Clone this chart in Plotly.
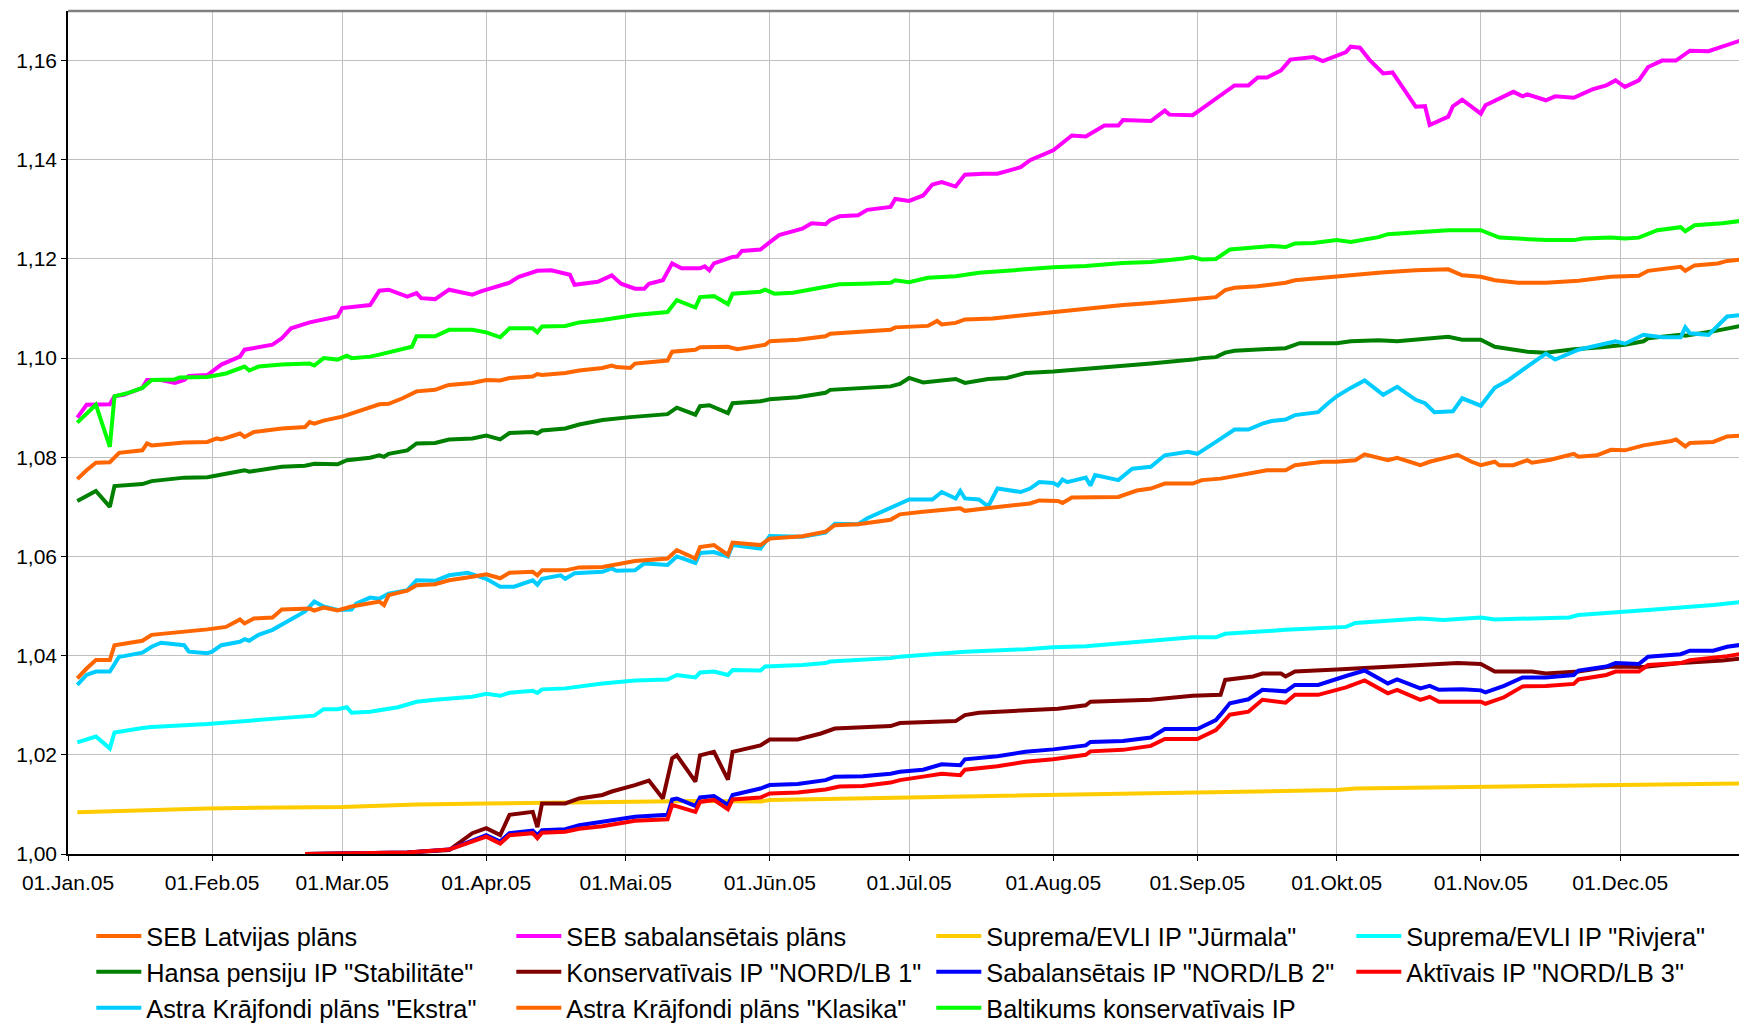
import pandas as pd
import plotly.graph_objects as go

YEAR = "2005-"

SEB_LATVIJAS_DATES = ["01-03", "01-05", "01-07", "01-10", "01-12", "01-17", "01-18", "01-19", "01-26", "01-31", "02-02", "02-03", "02-07", "02-08", "02-10", "02-16", "02-21", "02-22", "02-23", "02-25", "03-01", "03-02", "03-04", "03-07", "03-09", "03-11", "03-14", "03-17", "03-21", "03-23", "03-24", "03-29", "04-01", "04-04", "04-06", "04-11", "04-12", "04-13", "04-18", "04-21", "04-26", "04-28", "04-29", "05-02", "05-03", "05-10", "05-11", "05-16", "05-17", "05-23", "05-25", "05-31", "06-01", "06-07", "06-13", "06-14", "06-21", "06-27", "06-28", "07-05", "07-06", "07-07", "07-08", "07-11", "07-13", "07-19", "07-26", "08-01", "08-08", "08-16", "08-22", "08-31", "09-05", "09-07", "09-09", "09-14", "09-20", "09-22", "09-28", "10-04", "10-10", "10-13", "10-18", "10-25", "10-28", "11-01", "11-04", "11-09", "11-15", "11-22", "11-29", "12-05", "12-07", "12-14", "12-15", "12-17", "12-22", "12-24", "12-28"]
SEB_LATVIJAS_VALUES = [1.0756, 1.0774, 1.0789, 1.0790, 1.0809, 1.0814, 1.0828, 1.0824, 1.0830, 1.0831, 1.0838, 1.0836, 1.0848, 1.0841, 1.0851, 1.0858, 1.0861, 1.0871, 1.0868, 1.0874, 1.0882, 1.0885, 1.0892, 1.0900, 1.0907, 1.0908, 1.0919, 1.0933, 1.0936, 1.0943, 1.0946, 1.0950, 1.0956, 1.0955, 1.0960, 1.0963, 1.0968, 1.0966, 1.0970, 1.0975, 1.0980, 1.0985, 1.0982, 1.0980, 1.0989, 1.0995, 1.1013, 1.1017, 1.1022, 1.1023, 1.1018, 1.1027, 1.1034, 1.1037, 1.1044, 1.1049, 1.1054, 1.1057, 1.1062, 1.1065, 1.1070, 1.1075, 1.1068, 1.1071, 1.1078, 1.1080, 1.1087, 1.1093, 1.1099, 1.1107, 1.1111, 1.1120, 1.1123, 1.1137, 1.1142, 1.1145, 1.1152, 1.1157, 1.1162, 1.1169, 1.1172, 1.1174, 1.1177, 1.1179, 1.1167, 1.1164, 1.1157, 1.1152, 1.1152, 1.1156, 1.1164, 1.1166, 1.1176, 1.1184, 1.1176, 1.1187, 1.1191, 1.1196, 1.1200]

SEB_SABAL_DATES = ["01-03", "01-05", "01-10", "01-11", "01-13", "01-17", "01-18", "01-21", "01-24", "01-26", "01-27", "01-31", "02-03", "02-07", "02-08", "02-14", "02-16", "02-18", "02-22", "02-25", "02-28", "03-01", "03-07", "03-09", "03-11", "03-15", "03-17", "03-18", "03-21", "03-24", "03-29", "03-31", "04-04", "04-06", "04-08", "04-12", "04-15", "04-19", "04-20", "04-25", "04-28", "04-30", "05-03", "05-05", "05-06", "05-09", "05-11", "05-13", "05-17", "05-18", "05-19", "05-20", "05-24", "05-25", "05-26", "05-30", "06-03", "06-08", "06-10", "06-13", "06-14", "06-16", "06-20", "06-22", "06-27", "06-28", "07-01", "07-04", "07-06", "07-08", "07-11", "07-13", "07-17", "07-20", "07-25", "07-27", "08-01", "08-05", "08-08", "08-12", "08-15", "08-16", "08-22", "08-25", "08-26", "08-31", "09-02", "09-06", "09-08", "09-09", "09-12", "09-14", "09-16", "09-19", "09-21", "09-26", "09-28", "10-03", "10-04", "10-06", "10-08", "10-11", "10-13", "10-18", "10-20", "10-21", "10-25", "10-26", "10-28", "11-01", "11-02", "11-08", "11-10", "11-11", "11-15", "11-17", "11-21", "11-25", "11-28", "11-30", "12-02", "12-05", "12-07", "12-10", "12-13", "12-16", "12-20", "12-23", "12-28"]
SEB_SABAL_VALUES = [1.0880, 1.0906, 1.0907, 1.0923, 1.0926, 1.0940, 1.0956, 1.0956, 1.0950, 1.0956, 1.0964, 1.0966, 1.0987, 1.1003, 1.1017, 1.1027, 1.1040, 1.1060, 1.1072, 1.1077, 1.1084, 1.1101, 1.1107, 1.1136, 1.1138, 1.1124, 1.1131, 1.1121, 1.1119, 1.1138, 1.1128, 1.1135, 1.1145, 1.1152, 1.1164, 1.1176, 1.1177, 1.1168, 1.1148, 1.1154, 1.1167, 1.1150, 1.1140, 1.1140, 1.1150, 1.1157, 1.1191, 1.1181, 1.1181, 1.1185, 1.1177, 1.1191, 1.1204, 1.1205, 1.1216, 1.1219, 1.1248, 1.1261, 1.1272, 1.1270, 1.1278, 1.1286, 1.1288, 1.1299, 1.1305, 1.1321, 1.1317, 1.1328, 1.1350, 1.1355, 1.1346, 1.1370, 1.1372, 1.1372, 1.1385, 1.1399, 1.1419, 1.1449, 1.1447, 1.1469, 1.1469, 1.1480, 1.1478, 1.1499, 1.1491, 1.1490, 1.1503, 1.1530, 1.1544, 1.1550, 1.1550, 1.1566, 1.1566, 1.1580, 1.1602, 1.1607, 1.1599, 1.1617, 1.1628, 1.1626, 1.1602, 1.1574, 1.1576, 1.1507, 1.1508, 1.1470, 1.1487, 1.1508, 1.1521, 1.1493, 1.1510, 1.1537, 1.1528, 1.1532, 1.1520, 1.1528, 1.1525, 1.1542, 1.1550, 1.1560, 1.1547, 1.1560, 1.1587, 1.1600, 1.1600, 1.1620, 1.1619, 1.1629, 1.1644]

JURMALA_DATES = ["01-03", "01-17", "01-31", "03-01", "03-17", "04-01", "04-24", "05-16", "05-30", "06-01", "07-01", "08-01", "08-28", "09-15", "10-01", "10-05", "11-01", "12-01", "12-27", "12-28"]
JURMALA_VALUES = [1.0084, 1.0087, 1.0092, 1.0095, 1.0100, 1.0102, 1.0105, 1.0107, 1.0106, 1.0109, 1.0114, 1.0119, 1.0122, 1.0125, 1.0129, 1.0132, 1.0136, 1.0139, 1.0142, 1.0149]

RIVJERA_DATES = ["01-03", "01-07", "01-10", "01-11", "01-17", "01-19", "01-31", "02-08", "02-11", "02-16", "02-23", "02-25", "02-28", "03-02", "03-03", "03-07", "03-13", "03-16", "03-17", "03-21", "03-24", "03-29", "04-01", "04-04", "04-06", "04-11", "04-12", "04-13", "04-18", "04-24", "04-26", "05-03", "05-10", "05-12", "05-16", "05-17", "05-20", "05-23", "05-24", "05-30", "05-31", "06-08", "06-13", "06-14", "06-21", "06-27", "06-29", "07-11", "07-13", "07-26", "08-01", "08-08", "08-16", "08-22", "08-31", "09-05", "09-07", "09-20", "09-22", "10-03", "10-05", "10-11", "10-19", "10-24", "11-01", "11-04", "11-20", "11-22", "12-05", "12-07", "12-21", "12-28"]
RIVJERA_VALUES = [1.0225, 1.0237, 1.0213, 1.0245, 1.0254, 1.0256, 1.0262, 1.0267, 1.0270, 1.0274, 1.0279, 1.0292, 1.0292, 1.0296, 1.0285, 1.0287, 1.0296, 1.0303, 1.0307, 1.0311, 1.0314, 1.0317, 1.0323, 1.0319, 1.0325, 1.0329, 1.0325, 1.0332, 1.0334, 1.0341, 1.0344, 1.0350, 1.0352, 1.0361, 1.0356, 1.0366, 1.0368, 1.0361, 1.0371, 1.0370, 1.0378, 1.0381, 1.0385, 1.0388, 1.0391, 1.0395, 1.0398, 1.0406, 1.0408, 1.0413, 1.0417, 1.0419, 1.0425, 1.0430, 1.0437, 1.0437, 1.0444, 1.0452, 1.0453, 1.0458, 1.0466, 1.0470, 1.0475, 1.0472, 1.0477, 1.0473, 1.0477, 1.0482, 1.0489, 1.0492, 1.0502, 1.0509]

STABILITATE_DATES = ["01-03", "01-07", "01-10", "01-11", "01-17", "01-19", "01-26", "01-31", "02-04", "02-08", "02-09", "02-16", "02-21", "02-23", "02-28", "03-02", "03-07", "03-09", "03-10", "03-11", "03-15", "03-17", "03-21", "03-24", "03-29", "04-01", "04-04", "04-06", "04-11", "04-12", "04-13", "04-18", "04-21", "04-26", "05-02", "05-10", "05-12", "05-16", "05-17", "05-19", "05-23", "05-24", "05-30", "06-01", "06-07", "06-13", "06-14", "06-21", "06-27", "06-29", "07-01", "07-04", "07-11", "07-13", "07-18", "07-22", "07-26", "08-01", "08-08", "08-16", "08-22", "08-31", "09-02", "09-05", "09-07", "09-09", "09-20", "09-23", "10-01", "10-04", "10-10", "10-14", "10-19", "10-25", "10-28", "11-01", "11-04", "11-11", "11-15", "11-21", "11-27", "12-02", "12-06", "12-07", "12-14", "12-15", "12-21", "12-28"]
STABILITATE_VALUES = [1.0712, 1.0732, 1.0700, 1.0742, 1.0746, 1.0752, 1.0759, 1.0760, 1.0767, 1.0774, 1.0771, 1.0781, 1.0783, 1.0787, 1.0786, 1.0794, 1.0799, 1.0804, 1.0801, 1.0807, 1.0814, 1.0828, 1.0829, 1.0836, 1.0838, 1.0844, 1.0836, 1.0849, 1.0851, 1.0848, 1.0854, 1.0858, 1.0866, 1.0875, 1.0881, 1.0887, 1.0900, 1.0886, 1.0903, 1.0905, 1.0889, 1.0909, 1.0913, 1.0917, 1.0921, 1.0930, 1.0936, 1.0940, 1.0943, 1.0948, 1.0960, 1.0951, 1.0958, 1.0950, 1.0958, 1.0960, 1.0970, 1.0973, 1.0978, 1.0985, 1.0989, 1.0997, 1.1000, 1.1002, 1.1011, 1.1015, 1.1020, 1.1030, 1.1030, 1.1034, 1.1036, 1.1034, 1.1039, 1.1043, 1.1037, 1.1037, 1.1023, 1.1013, 1.1011, 1.1018, 1.1022, 1.1027, 1.1034, 1.1040, 1.1047, 1.1045, 1.1054, 1.1067]

NORD1_DATES = ["02-21", "03-15", "03-24", "03-29", "04-01", "04-04", "04-06", "04-11", "04-12", "04-13", "04-18", "04-21", "04-26", "04-28", "05-03", "05-06", "05-09", "05-11", "05-12", "05-16", "05-17", "05-20", "05-23", "05-24", "05-30", "06-01", "06-07", "06-12", "06-15", "06-21", "06-27", "06-29", "07-11", "07-13", "07-16", "08-02", "08-08", "08-09", "08-22", "08-31", "09-06", "09-07", "09-13", "09-15", "09-19", "09-20", "09-22", "10-01", "10-05", "10-13", "10-19", "10-27", "11-01", "11-04", "11-12", "11-15", "11-22", "11-29", "12-06", "12-14", "12-23", "12-28"]
NORD1_VALUES = [1.0000, 1.0003, 1.0008, 1.0042, 1.0052, 1.0038, 1.0079, 1.0085, 1.0054, 1.0102, 1.0102, 1.0112, 1.0119, 1.0126, 1.0139, 1.0148, 1.0112, 1.0193, 1.0199, 1.0146, 1.0199, 1.0206, 1.0150, 1.0206, 1.0219, 1.0231, 1.0231, 1.0243, 1.0253, 1.0256, 1.0258, 1.0264, 1.0268, 1.0280, 1.0285, 1.0293, 1.0300, 1.0307, 1.0311, 1.0319, 1.0321, 1.0351, 1.0358, 1.0364, 1.0364, 1.0358, 1.0368, 1.0372, 1.0374, 1.0379, 1.0381, 1.0385, 1.0383, 1.0368, 1.0368, 1.0364, 1.0368, 1.0378, 1.0377, 1.0385, 1.0390, 1.0395]

NORD2_DATES = ["02-21", "03-15", "03-24", "04-01", "04-04", "04-06", "04-11", "04-12", "04-13", "04-18", "04-21", "04-26", "05-03", "05-10", "05-11", "05-12", "05-16", "05-17", "05-20", "05-23", "05-24", "05-30", "06-01", "06-07", "06-13", "06-15", "06-21", "06-27", "06-29", "07-04", "07-08", "07-12", "07-13", "07-20", "07-26", "08-01", "08-08", "08-09", "08-16", "08-22", "08-25", "09-01", "09-05", "09-06", "09-08", "09-12", "09-15", "09-20", "09-22", "09-27", "10-01", "10-03", "10-07", "10-12", "10-14", "10-19", "10-21", "10-23", "10-28", "11-01", "11-02", "11-06", "11-10", "11-15", "11-21", "11-22", "11-28", "11-30", "12-05", "12-07", "12-14", "12-16", "12-21", "12-24", "12-28"]
NORD2_VALUES = [1.0000, 1.0003, 1.0009, 1.0038, 1.0025, 1.0042, 1.0047, 1.0038, 1.0048, 1.0050, 1.0058, 1.0065, 1.0075, 1.0079, 1.0110, 1.0112, 1.0097, 1.0114, 1.0117, 1.0099, 1.0119, 1.0132, 1.0139, 1.0141, 1.0149, 1.0156, 1.0157, 1.0162, 1.0166, 1.0170, 1.0181, 1.0179, 1.0191, 1.0197, 1.0206, 1.0211, 1.0219, 1.0226, 1.0228, 1.0235, 1.0252, 1.0252, 1.0270, 1.0281, 1.0304, 1.0312, 1.0331, 1.0328, 1.0341, 1.0341, 1.0354, 1.0359, 1.0370, 1.0344, 1.0352, 1.0334, 1.0339, 1.0331, 1.0332, 1.0330, 1.0326, 1.0339, 1.0356, 1.0356, 1.0361, 1.0370, 1.0378, 1.0385, 1.0383, 1.0398, 1.0403, 1.0410, 1.0410, 1.0418, 1.0423]

NORD3_DATES = ["02-21", "03-15", "03-24", "04-01", "04-04", "04-06", "04-11", "04-12", "04-13", "04-18", "04-21", "04-26", "05-03", "05-10", "05-11", "05-16", "05-17", "05-20", "05-23", "05-24", "05-30", "06-01", "06-07", "06-13", "06-16", "06-21", "06-27", "06-29", "07-04", "07-08", "07-12", "07-13", "07-20", "07-26", "08-01", "08-08", "08-09", "08-16", "08-22", "08-25", "09-01", "09-05", "09-06", "09-08", "09-12", "09-15", "09-20", "09-22", "09-27", "10-01", "10-03", "10-07", "10-12", "10-14", "10-19", "10-21", "10-23", "11-01", "11-02", "11-06", "11-10", "11-15", "11-21", "11-22", "11-28", "11-30", "12-05", "12-07", "12-14", "12-16", "12-21", "12-24", "12-28"]
NORD3_VALUES = [1.0000, 1.0003, 1.0009, 1.0035, 1.0021, 1.0038, 1.0042, 1.0032, 1.0043, 1.0045, 1.0051, 1.0056, 1.0067, 1.0070, 1.0099, 1.0085, 1.0105, 1.0109, 1.0090, 1.0110, 1.0114, 1.0122, 1.0124, 1.0130, 1.0136, 1.0137, 1.0144, 1.0149, 1.0156, 1.0162, 1.0159, 1.0170, 1.0177, 1.0186, 1.0191, 1.0200, 1.0207, 1.0210, 1.0218, 1.0232, 1.0232, 1.0250, 1.0260, 1.0281, 1.0287, 1.0311, 1.0305, 1.0321, 1.0321, 1.0332, 1.0336, 1.0350, 1.0324, 1.0331, 1.0311, 1.0317, 1.0307, 1.0307, 1.0303, 1.0316, 1.0338, 1.0339, 1.0343, 1.0352, 1.0361, 1.0368, 1.0368, 1.0381, 1.0385, 1.0391, 1.0395, 1.0399, 1.0405]

EKSTRA_DATES = ["01-03", "01-05", "01-07", "01-10", "01-12", "01-13", "01-17", "01-19", "01-21", "01-26", "01-27", "01-31", "02-01", "02-03", "02-07", "02-08", "02-09", "02-11", "02-14", "02-17", "02-20", "02-21", "02-23", "02-25", "02-28", "03-03", "03-04", "03-07", "03-09", "03-11", "03-15", "03-17", "03-21", "03-24", "03-28", "04-01", "04-04", "04-07", "04-11", "04-12", "04-13", "04-17", "04-18", "04-20", "04-26", "04-28", "04-29", "05-03", "05-05", "05-10", "05-12", "05-16", "05-17", "05-20", "05-23", "05-24", "05-30", "06-01", "06-08", "06-13", "06-15", "06-20", "06-22", "06-27", "07-01", "07-06", "07-08", "07-11", "07-12", "07-13", "07-16", "07-18", "07-20", "07-25", "07-27", "07-29", "08-01", "08-02", "08-03", "08-04", "08-08", "08-09", "08-10", "08-15", "08-18", "08-22", "08-25", "08-30", "09-01", "09-05", "09-09", "09-12", "09-15", "09-17", "09-20", "09-22", "09-27", "09-29", "10-01", "10-04", "10-07", "10-11", "10-14", "10-18", "10-20", "10-22", "10-26", "10-28", "11-01", "11-04", "11-07", "11-11", "11-15", "11-17", "11-22", "11-30", "12-02", "12-06", "12-10", "12-14", "12-15", "12-16", "12-20", "12-24", "12-27", "12-28"]
EKSTRA_VALUES = [1.0341, 1.0361, 1.0368, 1.0368, 1.0398, 1.0399, 1.0406, 1.0418, 1.0426, 1.0421, 1.0408, 1.0405, 1.0408, 1.0421, 1.0428, 1.0433, 1.0430, 1.0442, 1.0452, 1.0468, 1.0482, 1.0489, 1.0509, 1.0499, 1.0492, 1.0493, 1.0505, 1.0517, 1.0515, 1.0525, 1.0532, 1.0552, 1.0551, 1.0562, 1.0567, 1.0555, 1.0539, 1.0539, 1.0552, 1.0543, 1.0555, 1.0562, 1.0555, 1.0566, 1.0569, 1.0576, 1.0571, 1.0572, 1.0586, 1.0583, 1.0600, 1.0587, 1.0607, 1.0609, 1.0600, 1.0623, 1.0616, 1.0641, 1.0640, 1.0648, 1.0666, 1.0665, 1.0677, 1.0697, 1.0715, 1.0715, 1.0730, 1.0717, 1.0732, 1.0717, 1.0715, 1.0701, 1.0737, 1.0730, 1.0737, 1.0750, 1.0748, 1.0743, 1.0755, 1.0750, 1.0759, 1.0743, 1.0764, 1.0754, 1.0777, 1.0781, 1.0804, 1.0811, 1.0807, 1.0831, 1.0856, 1.0856, 1.0868, 1.0873, 1.0876, 1.0885, 1.0891, 1.0908, 1.0923, 1.0940, 1.0955, 1.0926, 1.0942, 1.0916, 1.0909, 1.0891, 1.0893, 1.0919, 1.0904, 1.0940, 1.0956, 1.0983, 1.1009, 1.0997, 1.1017, 1.1034, 1.1029, 1.1047, 1.1042, 1.1042, 1.1062, 1.1050, 1.1047, 1.1084, 1.1087, 1.1097]

KLASIKA_DATES = ["01-03", "01-05", "01-07", "01-10", "01-11", "01-17", "01-19", "01-26", "01-31", "02-04", "02-07", "02-08", "02-10", "02-14", "02-16", "02-22", "02-23", "02-25", "02-28", "03-03", "03-09", "03-10", "03-11", "03-15", "03-17", "03-21", "03-24", "03-29", "04-01", "04-04", "04-06", "04-11", "04-12", "04-13", "04-18", "04-21", "04-26", "05-03", "05-10", "05-12", "05-16", "05-17", "05-20", "05-23", "05-24", "05-30", "06-01", "06-08", "06-13", "06-15", "06-20", "06-27", "06-29", "07-04", "07-12", "07-13", "07-19", "07-21", "07-27", "07-29", "08-02", "08-03", "08-05", "08-15", "08-19", "08-22", "08-25", "08-31", "09-02", "09-06", "09-16", "09-20", "09-22", "09-28", "10-01", "10-05", "10-07", "10-12", "10-14", "10-19", "10-21", "10-27", "10-30", "11-01", "11-04", "11-05", "11-08", "11-11", "11-12", "11-16", "11-21", "11-22", "11-26", "11-29", "12-02", "12-06", "12-12", "12-13", "12-15", "12-16", "12-21", "12-24", "12-28"]
KLASIKA_VALUES = [1.0354, 1.0374, 1.0391, 1.0391, 1.0421, 1.0430, 1.0442, 1.0448, 1.0453, 1.0458, 1.0473, 1.0465, 1.0475, 1.0477, 1.0493, 1.0495, 1.0491, 1.0497, 1.0491, 1.0499, 1.0509, 1.0502, 1.0522, 1.0531, 1.0542, 1.0544, 1.0552, 1.0559, 1.0564, 1.0556, 1.0567, 1.0569, 1.0562, 1.0572, 1.0572, 1.0578, 1.0579, 1.0591, 1.0596, 1.0613, 1.0596, 1.0619, 1.0623, 1.0603, 1.0628, 1.0623, 1.0636, 1.0641, 1.0650, 1.0663, 1.0665, 1.0674, 1.0685, 1.0690, 1.0697, 1.0692, 1.0700, 1.0701, 1.0707, 1.0713, 1.0712, 1.0708, 1.0719, 1.0720, 1.0733, 1.0737, 1.0747, 1.0747, 1.0754, 1.0757, 1.0774, 1.0774, 1.0784, 1.0791, 1.0791, 1.0794, 1.0806, 1.0794, 1.0799, 1.0784, 1.0791, 1.0805, 1.0791, 1.0784, 1.0791, 1.0784, 1.0784, 1.0794, 1.0789, 1.0795, 1.0807, 1.0801, 1.0804, 1.0815, 1.0814, 1.0824, 1.0833, 1.0836, 1.0822, 1.0829, 1.0831, 1.0842, 1.0844]

BALTIKUMS_DATES = ["01-03", "01-07", "01-10", "01-11", "01-14", "01-17", "01-19", "01-24", "01-25", "01-31", "02-04", "02-08", "02-09", "02-11", "02-16", "02-22", "02-23", "02-25", "02-28", "03-02", "03-03", "03-07", "03-09", "03-14", "03-16", "03-17", "03-21", "03-24", "03-29", "04-01", "04-04", "04-06", "04-11", "04-12", "04-13", "04-18", "04-21", "04-26", "05-03", "05-10", "05-12", "05-16", "05-17", "05-20", "05-23", "05-24", "05-30", "05-31", "06-02", "06-06", "06-13", "06-16", "06-21", "06-27", "06-28", "07-01", "07-05", "07-11", "07-16", "07-20", "07-26", "08-01", "08-08", "08-16", "08-22", "08-29", "08-31", "09-02", "09-05", "09-08", "09-14", "09-17", "09-20", "09-22", "09-26", "10-01", "10-04", "10-10", "10-12", "10-19", "10-25", "11-01", "11-05", "11-09", "11-15", "11-21", "11-23", "11-29", "12-02", "12-05", "12-09", "12-14", "12-15", "12-17", "12-23", "12-28"]
BALTIKUMS_VALUES = [1.0870, 1.0906, 1.0821, 1.0923, 1.0930, 1.0940, 1.0956, 1.0957, 1.0961, 1.0962, 1.0969, 1.0983, 1.0975, 1.0983, 1.0987, 1.0989, 1.0985, 1.1000, 1.0997, 1.1005, 1.1000, 1.1003, 1.1007, 1.1017, 1.1023, 1.1044, 1.1044, 1.1057, 1.1057, 1.1052, 1.1042, 1.1060, 1.1060, 1.1052, 1.1064, 1.1065, 1.1072, 1.1077, 1.1087, 1.1093, 1.1117, 1.1102, 1.1123, 1.1125, 1.1109, 1.1130, 1.1134, 1.1138, 1.1130, 1.1132, 1.1144, 1.1149, 1.1150, 1.1152, 1.1157, 1.1153, 1.1162, 1.1165, 1.1172, 1.1174, 1.1179, 1.1183, 1.1186, 1.1192, 1.1194, 1.1201, 1.1204, 1.1199, 1.1200, 1.1219, 1.1224, 1.1226, 1.1224, 1.1231, 1.1232, 1.1238, 1.1234, 1.1244, 1.1250, 1.1254, 1.1258, 1.1258, 1.1243, 1.1241, 1.1238, 1.1238, 1.1241, 1.1243, 1.1241, 1.1243, 1.1258, 1.1264, 1.1256, 1.1268, 1.1272, 1.1278]

MONTH_TICKS = ["01-01", "02-01", "03-01", "04-01", "05-01", "06-01", "07-01", "08-01", "09-01", "10-01", "11-01", "12-01"]
MONTH_LABELS = ["01.Jan.05", "01.Feb.05", "01.Mar.05", "01.Apr.05", "01.Mai.05", "01.Jūn.05",
                "01.Jūl.05", "01.Aug.05", "01.Sep.05", "01.Okt.05", "01.Nov.05", "01.Dec.05"]

SERIES = [
    ("SEB Latvijas plāns", SEB_LATVIJAS_DATES, SEB_LATVIJAS_VALUES, "#FF6600"),
    ("SEB sabalansētais plāns", SEB_SABAL_DATES, SEB_SABAL_VALUES, "#FF00FF"),
    ('Suprema/EVLI IP "Jūrmala"', JURMALA_DATES, JURMALA_VALUES, "#FFCC00"),
    ('Suprema/EVLI IP "Rivjera"', RIVJERA_DATES, RIVJERA_VALUES, "#00FFFF"),
    ('Hansa pensiju IP "Stabilitāte"', STABILITATE_DATES, STABILITATE_VALUES, "#008000"),
    ('Konservatīvais IP "NORD/LB 1"', NORD1_DATES, NORD1_VALUES, "#800000"),
    ('Sabalansētais IP "NORD/LB 2"', NORD2_DATES, NORD2_VALUES, "#0000FF"),
    ('Aktīvais IP "NORD/LB 3"', NORD3_DATES, NORD3_VALUES, "#FF0000"),
    ('Astra Krājfondi plāns "Ekstra"', EKSTRA_DATES, EKSTRA_VALUES, "#00CCFF"),
    ('Astra Krājfondi plāns "Klasika"', KLASIKA_DATES, KLASIKA_VALUES, "#FF6600"),
    ("Baltikums konservatīvais IP", BALTIKUMS_DATES, BALTIKUMS_VALUES, "#00FF00"),
]


def to_dates(days):
    return pd.to_datetime([YEAR + d for d in days])


fig = go.Figure()
for name, days, values, color in SERIES:
    fig.add_trace(
        go.Scatter(
            x=to_dates(days),
            y=values,
            name=name,
            mode="lines",
            line=dict(color=color, width=4),
        )
    )

font = "Arial, Liberation Sans, sans-serif"

fig.update_xaxes(
    type="date",
    range=["2005-01-01", "2005-12-30"],
    tickvals=to_dates(MONTH_TICKS),
    ticktext=MONTH_LABELS,
    tickangle=0,
    showgrid=True,
    gridcolor="#C0C0C0",
    gridwidth=1,
    showline=True,
    linecolor="black",
    linewidth=1.5,
    ticks="outside",
    ticklen=5,
    tickcolor="black",
    ticklabelstandoff=4,
    tickfont=dict(family=font, size=21, color="black"),
    zeroline=False,
)
fig.update_yaxes(
    range=[1.0, 1.17],
    tick0=1.0,
    dtick=0.02,
    tickformat=".2f",
    showgrid=True,
    gridcolor="#C0C0C0",
    gridwidth=1,
    showline=True,
    linecolor="black",
    linewidth=1.5,
    ticks="outside",
    ticklen=5,
    tickcolor="black",
    tickfont=dict(family=font, size=21, color="black"),
    zeroline=False,
)

# grey frame line along the top of the plot area
fig.add_shape(
    type="line", xref="paper", yref="paper", x0=0, x1=1, y0=1, y1=1,
    line=dict(color="#808080", width=2.5),
)

fig.update_layout(
    width=1747,
    height=1024,
    margin=dict(l=60, r=0, t=3, b=178, autoexpand=False),
    paper_bgcolor="white",
    plot_bgcolor="white",
    separators=", ",
    showlegend=True,
    legend=dict(
        orientation="h",
        x=-0.001,
        xanchor="left",
        y=-0.070,
        yanchor="top",
        indentation=25,
        entrywidth=335,
        entrywidthmode="pixels",
        itemwidth=45,
        font=dict(family=font, size=25.3, color="black"),
        bgcolor="rgba(0,0,0,0)",
        traceorder="normal",
    ),
)

fig.write_html("out.html")
